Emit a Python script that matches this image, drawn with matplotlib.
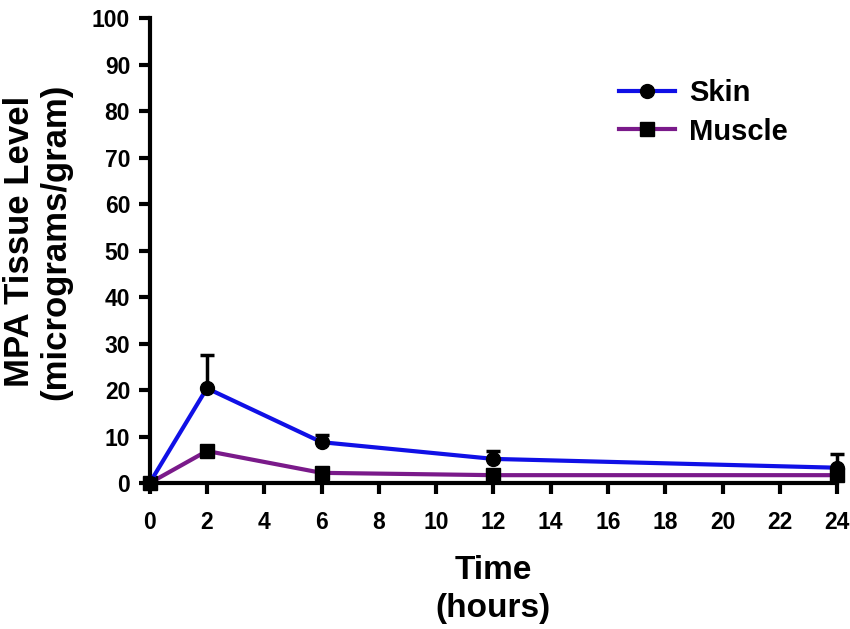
import matplotlib
matplotlib.use("Agg")
import matplotlib.pyplot as plt

time_h = [0, 2, 6, 12, 24]
skin = [0.0, 20.4, 8.8, 5.2, 3.3]
skin_err = [0.0, 7.2, 1.6, 1.6, 3.0]
muscle = [0.0, 6.9, 2.2, 1.7, 1.7]
muscle_err = [0.0, 0.8, 0.3, 0.3, 0.3]
x_ticks = list(range(0, 25, 2))
y_ticks = list(range(0, 101, 10))

plt.rcParams['font.family'] = ['Liberation Sans', 'DejaVu Sans']
plt.rcParams['font.weight'] = 'bold'

fig = plt.figure(figsize=(8.5, 6.29), dpi=100)
ax = fig.add_axes([0.176, 0.232, 0.809, 0.739])

ax.errorbar(time_h, skin, yerr=[[0]*len(skin), skin_err], color='#1010E6', lw=3,
            marker='o', ms=10, mfc='black', mec='black', ecolor='black',
            elinewidth=2.5, capsize=5, capthick=2.5, label='Skin', zorder=3)
ax.errorbar(time_h, muscle, yerr=[[0]*len(muscle), muscle_err], color='#7A1A8A', lw=3,
            marker='s', ms=10, mfc='black', mec='black', ecolor='black',
            elinewidth=2.5, capsize=5, capthick=2.5, label='Muscle', zorder=2)

ax.set_xlim(0, 24)
ax.set_ylim(0, 100)
ax.set_xticks(x_ticks)
ax.set_yticks(y_ticks)
ax.set_xticklabels([str(t) for t in x_ticks], fontsize=16.5, fontweight='bold')
ax.set_yticklabels([str(t) for t in y_ticks], fontsize=16.5, fontweight='bold')
for s in ['top', 'right']:
    ax.spines[s].set_visible(False)
for s in ['left', 'bottom']:
    ax.spines[s].set_linewidth(3)
ax.tick_params(axis='both', direction='out', length=8, width=3)
ax.tick_params(axis='x', pad=12)
ax.tick_params(axis='y', pad=6)
for art in ax.lines + ax.collections:
    art.set_clip_on(False)

ax.set_ylabel('MPA Tissue Level\n(micrograms/gram)', fontsize=25, fontweight='bold',
              linespacing=1.1, va='center')
ax.yaxis.set_label_coords(-0.163, 0.52)
ax.set_xlabel('Time\n(hours)', fontsize=24, fontweight='bold', linespacing=1.3)
ax.xaxis.set_label_coords(0.5, -0.155)
ax.xaxis.label.set_va('top')

handles, labels = ax.get_legend_handles_labels()
handles = [h[0] for h in handles]
leg = ax.legend(handles, labels, loc='upper left', bbox_to_anchor=(0.645, 0.925), frameon=False,
                prop={'size': 21, 'weight': 'bold'}, handlelength=1.9, handletextpad=0.5,
                labelspacing=0.35)

fig.savefig('out.png', dpi=100)
